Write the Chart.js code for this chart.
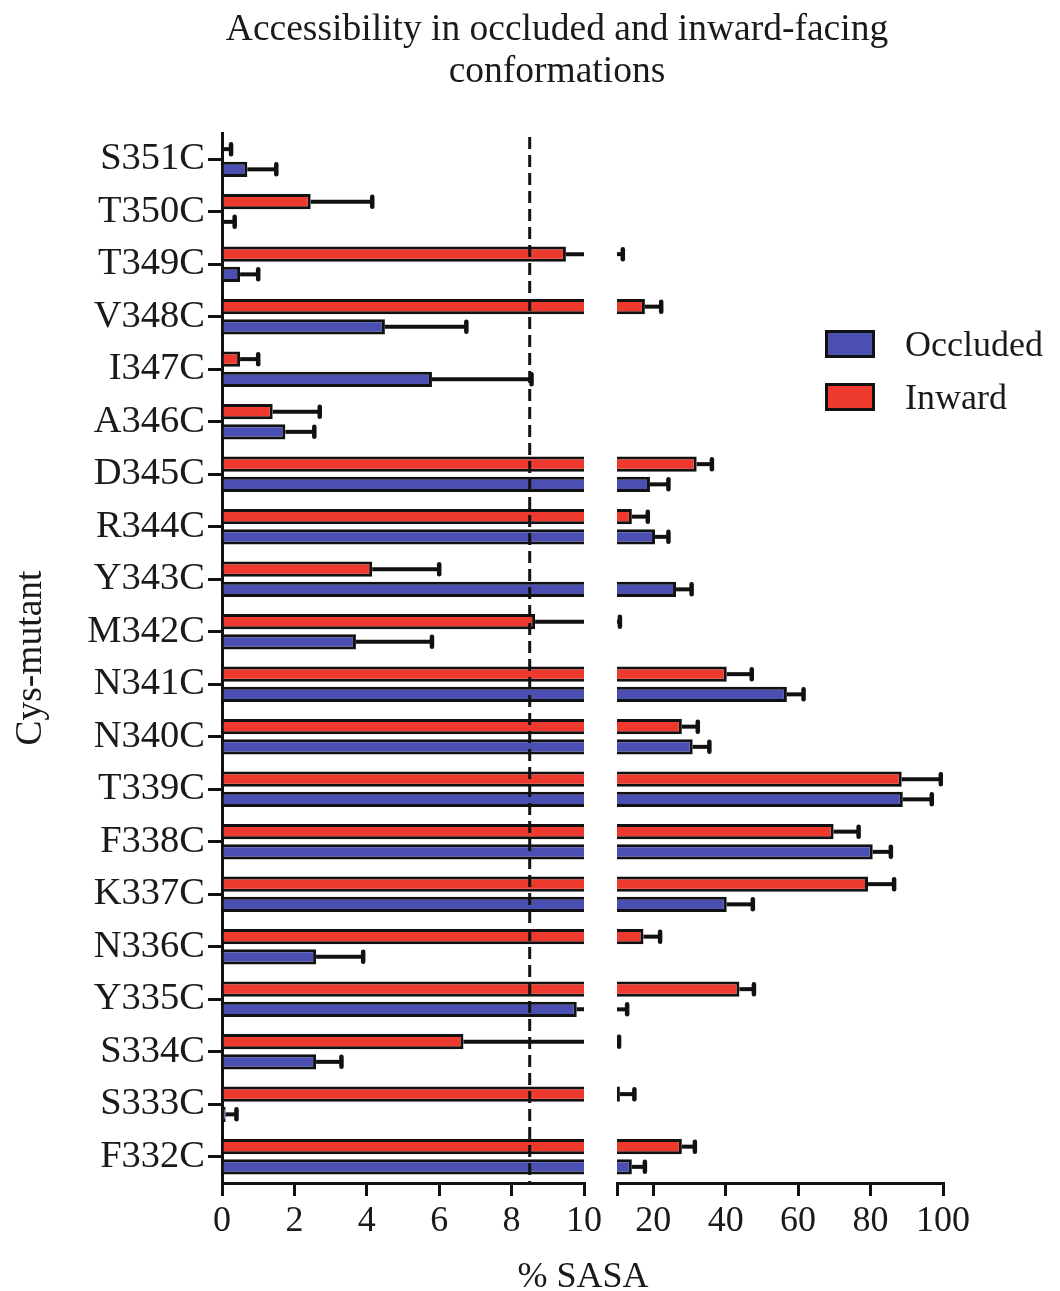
<!DOCTYPE html>
<html>
<head>
<meta charset="utf-8">
<script src="https://cdn.jsdelivr.net/npm/chart.js@4.4.1/dist/chart.umd.min.js"></script>
<style>
  body { margin: 0; background: #fff; font-family: "Liberation Serif", serif; color: #1a1a1a; }
  #page { position: relative; width: 1060px; height: 1291px; overflow: hidden; }
  .box { position: absolute; top: 0; height: 1291px; }
  #leftBox { left: 0; width: 640px; }
  #rightBox { left: 600px; width: 460px; }
  #title { position: absolute; top: 7px; left: 557px; transform: translateX(-50%); font-size: 37.5px; line-height: 42px; text-align: center; white-space: nowrap; }
  #xTitle { position: absolute; top: 1254px; left: 583px; transform: translateX(-50%); font-size: 36px; line-height: 42px; white-space: nowrap; }
  .legendRow { position: absolute; left: 825px; height: 28px; display: flex; align-items: center; white-space: nowrap; }
  .swatch { width: 50px; height: 28px; box-sizing: border-box; border: 3px solid #111; }
  .legendText { margin-left: 30px; font-size: 36px; line-height: 28px; }
</style>
</head>
<body>
<div id="page">
  <div class="box" id="leftBox"><canvas id="leftChart"></canvas></div>
  <div class="box" id="rightBox"><canvas id="rightChart"></canvas></div>
  <div id="title">Accessibility in occluded and inward-facing<br>conformations</div>
  <div id="xTitle">% SASA</div>
  <div id="legend"></div>
</div>
<script>
// Cys mutants, top to bottom
const categories = ['S351C', 'T350C', 'T349C', 'V348C', 'I347C', 'A346C', 'D345C', 'R344C', 'Y343C', 'M342C',
                    'N341C', 'N340C', 'T339C', 'F338C', 'K337C', 'N336C', 'Y335C', 'S334C', 'S333C', 'F332C'];

// % SASA, inward-facing conformation (mean and error)
const inwardValues = [0.05, 2.45, 9.5, 17.7, 0.5, 1.4, 32.0, 14.1, 4.15, 8.65,
                      40.3, 27.9, 88.6, 69.8, 79.3, 17.3, 43.8, 6.67, 10.8, 27.9];
const inwardErrors = [0.2, 1.7, 2.1, 4.5, 0.5, 1.3, 4.2, 4.4, 1.85, 2.15,
                      6.9, 4.4, 10.8, 6.9, 7.2, 4.6, 4.0, 3.9, 4.0, 3.6];

// % SASA, occluded conformation (mean and error)
const occludedValues = [0.7, 0.05, 0.5, 4.5, 5.8, 1.75, 19.1, 20.5, 26.3, 3.7,
                        56.9, 30.9, 88.9, 80.6, 40.3, 2.6, 9.8, 2.6, 0.1, 14.1];
const occludedErrors = [0.8, 0.3, 0.5, 2.25, 2.75, 0.8, 5.1, 3.7, 4.3, 2.1,
                        4.6, 4.6, 8.0, 5.0, 7.2, 1.3, 3.0, 0.7, 0.3, 3.6];

// broken x axis: 0-10 on the left part, 10-100 on the right part
const leftTicks = [0, 2, 4, 6, 8, 10];
const rightTicks = [10, 20, 40, 60, 80, 100];
const thresholdValue = 8.5;

const FONT = '"Liberation Serif", "Times New Roman", serif';
const BLUE = '#4b4fb2';
const RED = '#ee3a2e';
const INK = '#111';

function makeDatasets() {
    return [
        { label: 'Inward', data: inwardValues, errors: inwardErrors, backgroundColor: RED },
        { label: 'Occluded', data: occludedValues, errors: occludedErrors, backgroundColor: BLUE }
    ].map(ds => Object.assign(ds, {
        borderColor: INK,
        borderWidth: 3,
        borderSkipped: 'start',
        categoryPercentage: 0.77,
        barPercentage: 0.75,
        clip: 0
    }));
}

// one-sided error bars, clipped to each part of the axis
const errorBars = {
    id: 'errorBars',
    afterDatasetsDraw(chart) {
        const { ctx, chartArea: a, scales: { x } } = chart;
        ctx.save();
        ctx.beginPath();
        ctx.rect(a.left, a.top - 10, a.right - a.left, a.bottom - a.top + 20);
        ctx.clip();
        ctx.strokeStyle = INK;
        chart.data.datasets.forEach((ds, i) => {
            chart.getDatasetMeta(i).data.forEach((bar, j) => {
                const x1 = x.getPixelForValue(ds.data[j]);
                const x2 = x.getPixelForValue(ds.data[j] + ds.errors[j]);
                ctx.lineWidth = 4;
                ctx.lineCap = 'butt';
                ctx.beginPath();
                ctx.moveTo(x1, bar.y);
                ctx.lineTo(x2, bar.y);
                ctx.stroke();
                ctx.lineWidth = 4.5;
                ctx.lineCap = 'round';
                ctx.beginPath();
                ctx.moveTo(x2, bar.y - 5);
                ctx.lineTo(x2, bar.y + 5);
                ctx.stroke();
            });
        });
        ctx.restore();
    }
};

// dashed reference line in the left part
const thresholdLine = {
    id: 'thresholdLine',
    afterDatasetsDraw(chart) {
        const { ctx, chartArea: a, scales: { x } } = chart;
        const px = x.getPixelForValue(thresholdValue);
        ctx.save();
        ctx.setLineDash([12, 6]);
        ctx.lineWidth = 3;
        ctx.strokeStyle = INK;
        ctx.beginPath();
        ctx.moveTo(px, a.top + 4);
        ctx.lineTo(px, a.bottom);
        ctx.stroke();
        ctx.restore();
    }
};

function xAxis(min, max, tickValues) {
    return {
        type: 'linear',
        min: min,
        max: max,
        afterBuildTicks: s => { s.ticks = tickValues.map(v => ({ value: v })); },
        afterFit: s => { s.height = 108; },
        border: { color: INK, width: 3 },
        grid: { drawOnChartArea: false, drawTicks: true, tickLength: 13, color: INK, lineWidth: 3 },
        ticks: {
            color: '#1a1a1a',
            font: { family: FONT, size: 36 },
            padding: 4,
            maxRotation: 0,
            autoSkip: false,
            callback: v => (min > 0 && v === min) ? '' : v
        }
    };
}

const leftChart = new Chart(document.getElementById('leftChart'), {
    type: 'bar',
    data: { labels: categories, datasets: makeDatasets() },
    options: {
        indexAxis: 'y',
        responsive: true,
        maintainAspectRatio: false,
        animation: false,
        layout: { padding: { top: 133, right: 56, bottom: 0, left: 0 } },
        plugins: { legend: { display: false }, tooltip: { enabled: false } },
        scales: {
            x: xAxis(0, 10, leftTicks),
            y: {
                afterFit: s => { s.width = 222; },
                border: { color: INK, width: 3 },
                grid: { drawOnChartArea: false, offset: false, tickLength: 14, color: INK, lineWidth: 3 },
                ticks: { color: '#1a1a1a', font: { family: FONT, size: 38.5 }, padding: 3, autoSkip: false },
                title: {
                    display: true,
                    text: 'Cys-mutant',
                    color: '#1a1a1a',
                    font: { family: FONT, size: 37.5 },
                    padding: { top: 9, bottom: 0 }
                }
            }
        }
    },
    plugins: [errorBars, thresholdLine]
});

const rightChart = new Chart(document.getElementById('rightChart'), {
    type: 'bar',
    data: { labels: categories, datasets: makeDatasets() },
    options: {
        indexAxis: 'y',
        responsive: true,
        maintainAspectRatio: false,
        animation: false,
        layout: { padding: { top: 133, right: 117, bottom: 0, left: 17 } },
        plugins: { legend: { display: false }, tooltip: { enabled: false } },
        scales: {
            x: xAxis(10, 100, rightTicks),
            y: { display: false }
        }
    },
    plugins: [errorBars]
});

// legend, Occluded first as in the figure
const legendEl = document.getElementById('legend');
leftChart.data.datasets.slice().reverse().forEach((ds, i) => {
    const row = document.createElement('div');
    row.className = 'legendRow';
    row.style.top = (330 + i * 53) + 'px';
    const sw = document.createElement('div');
    sw.className = 'swatch';
    sw.style.background = ds.backgroundColor;
    const txt = document.createElement('span');
    txt.className = 'legendText';
    txt.textContent = ds.label;
    row.appendChild(sw);
    row.appendChild(txt);
    legendEl.appendChild(row);
});
</script>
</body>
</html>
